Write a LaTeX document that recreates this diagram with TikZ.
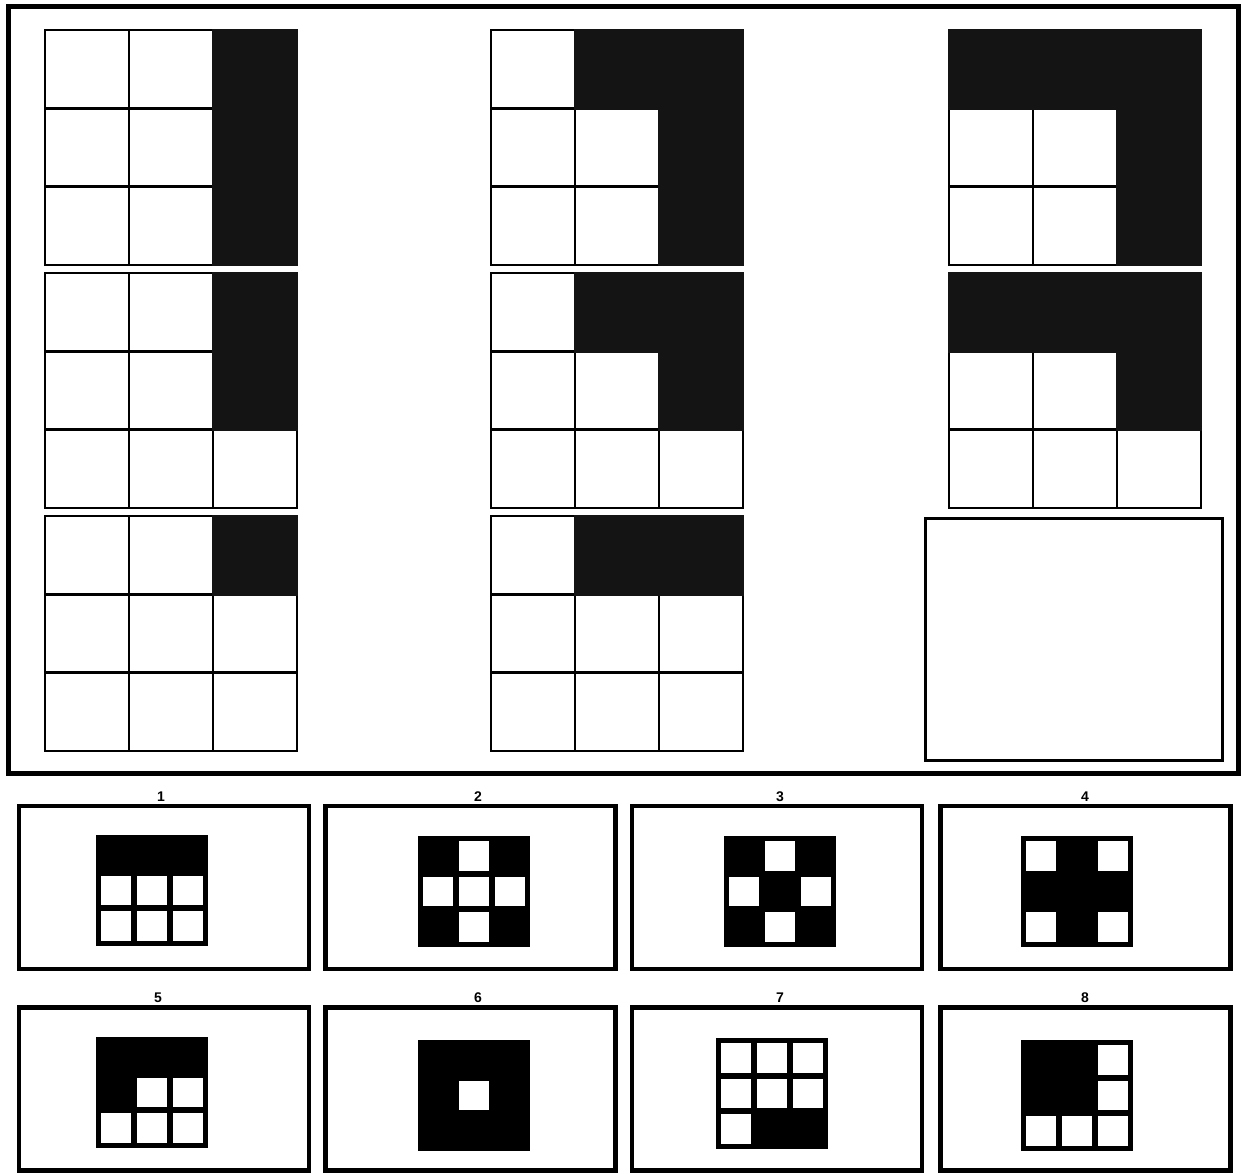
\documentclass[tikz,border=0pt]{standalone}
\usepackage{fontspec}
\setsansfont{Liberation Sans}
\tikzset{
  outerframe/.style={draw=black, line width=5pt, inner sep=0pt, fill=white},
  gridline/.style={draw=black, line width=2.4pt, fill=white},
  darkfill/.style={fill=black!92},
  emptybox/.style={draw=black, line width=3pt, inner sep=0pt, fill=white},
  ansbox/.style={draw=black, line width=4.5pt, inner sep=0pt, fill=white, minimum width=290pt, minimum height=163pt},
  numlabel/.style={font=\sffamily\bfseries\fontsize{14}{14}\selectfont, inner sep=0pt},
}
\newcommand{\BigGrid}[3]{%
  \foreach \c in {0,1,2} {\foreach \r in {0,1,2} {
    \draw[gridline] (#1+\c*84, #2+\r*78.33) rectangle ++(84,78.33);}}
  \foreach \c/\r in {#3} {
    \fill[darkfill] (#1+\c*84-1.2, #2+\r*78.33-1.2) rectangle ++(86.4,80.73);}
}
\newcommand{\MiniGrid}[3]{%
  \fill[black] (#1,#2) rectangle ++(112,111);
  \foreach \c/\r in {#3} {
    \fill[white] (#1+5+\c*36, #2+5+\r*35.7) rectangle ++(30,29.5);}
}
\begin{document}
\begin{tikzpicture}[x=1pt,y=-1pt]
\useasboundingbox (0,0) rectangle (1242,1173);
\fill[white] (0,0) rectangle (1242,1173);
% top panel
\node[outerframe, minimum width=1230pt, minimum height=767pt] (panel) at (623,389.5) {};
\BigGrid{45}{30}{2/0,2/1,2/2}
\BigGrid{491}{30}{1/0,2/0,2/1,2/2}
\BigGrid{949}{30}{0/0,1/0,2/0,2/1,2/2}
\BigGrid{45}{273}{2/0,2/1}
\BigGrid{491}{273}{1/0,2/0,2/1}
\BigGrid{949}{273}{0/0,1/0,2/0,2/1}
\BigGrid{45}{516}{2/0}
\BigGrid{491}{516}{1/0,2/0}
\node[emptybox, minimum width=297pt, minimum height=242pt] (blank) at (1073.5,639) {};
% answers row 1
\node[ansbox] (a1) at (164,887.5) {};
\node[ansbox] (a2) at (470.5,887.5) {};
\node[ansbox] (a3) at (777,887.5) {};
\node[ansbox] (a4) at (1085.5,887.5) {};
\node[numlabel] (n1) at (161,797) {1};
\node[numlabel] (n2) at (478,797) {2};
\node[numlabel] (n3) at (780,797) {3};
\node[numlabel] (n4) at (1085,797) {4};
\MiniGrid{96}{835}{0/1,1/1,2/1,0/2,1/2,2/2}
\MiniGrid{418}{836}{1/0,0/1,1/1,2/1,1/2}
\MiniGrid{724}{836}{1/0,0/1,2/1,1/2}
\MiniGrid{1021}{836}{0/0,2/0,0/2,2/2}
% answers row 2
\node[ansbox] (a5) at (164,1089) {};
\node[ansbox] (a6) at (470.5,1089) {};
\node[ansbox] (a7) at (777,1089) {};
\node[ansbox] (a8) at (1085.5,1089) {};
\node[numlabel] (n5) at (158,998) {5};
\node[numlabel] (n6) at (478,998) {6};
\node[numlabel] (n7) at (780,998) {7};
\node[numlabel] (n8) at (1085,998) {8};
\MiniGrid{96}{1037}{1/1,2/1,0/2,1/2,2/2}
\MiniGrid{418}{1040}{1/1}
\MiniGrid{716}{1038}{0/0,1/0,2/0,0/1,1/1,2/1,0/2}
\MiniGrid{1021}{1040}{2/0,2/1,0/2,1/2,2/2}
\end{tikzpicture}
\end{document}
